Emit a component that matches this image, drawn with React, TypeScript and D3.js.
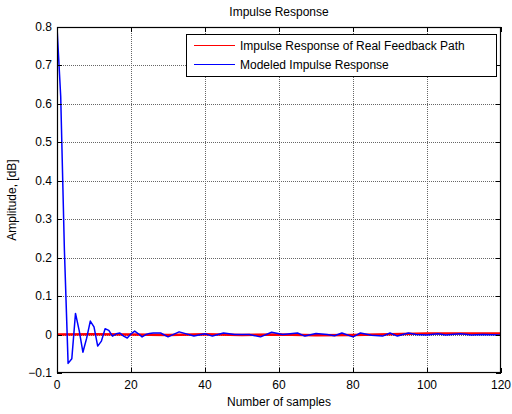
import React from "react";
import * as d3 from "d3";

const xTicks = [0, 20, 40, 60, 80, 100, 120];
const yTicks = [-0.1, 0, 0.1, 0.2, 0.3, 0.4, 0.5, 0.6, 0.7, 0.8];

const realX = [0, 10, 20, 30, 40, 50, 60, 70, 80, 90, 100, 110, 120];
const realY = [0, 0.001, 0, -0.001, 0.001, -0.001, 0, -0.002, -0.001, 0.001, 0.003, 0.003, 0.003];

const modeledX = [0, 1, 2, 3, 4, 5, 6, 7, 8, 9, 10, 11, 12, 13, 14, 15, 16, 17, 18, 19, 20, 21, 22, 23, 24, 25, 26, 27, 28, 30, 33, 37, 40, 42, 45, 48, 52, 55, 58, 61, 65, 67, 70, 73, 75, 77, 80, 82, 85, 88, 90, 92, 95, 97, 100, 103, 105, 109, 112, 115, 120];
const modeledY = [0.8, 0.62, 0.22, -0.075, -0.063, 0.055, 0.01, -0.046, -0.01, 0.035, 0.02, -0.03, -0.017, 0.015, 0.011, -0.004, 0.002, 0.004, -0.004, -0.009, 0.002, 0.009, 0.002, -0.006, 0, 0.003, 0.004, 0.004, 0.004, -0.006, 0.007, -0.004, 0.002, -0.004, 0.004, 0, 0, -0.006, 0.006, 0, 0.004, -0.004, 0.003, 0, -0.003, 0.004, -0.006, 0.004, -0.002, -0.004, 0.004, -0.004, 0.004, 0, -0.001, 0.002, -0.001, 0.002, -0.001, 0, -0.001];

const W = 512, H = 414;
const L = 57, R = 501, T = 27, B = 373;
const FONT = "'Liberation Sans', Arial, sans-serif";

export default function App() {
  const x = d3.scaleLinear().domain([0, 120]).range([L, R]);
  const y = d3.scaleLinear().domain([-0.1, 0.8]).range([B, T]);
  const line = d3.line<[number, number]>().x(d => x(d[0])).y(d => y(d[1]));
  const realPts: [number, number][] = realX.map((v, i) => [v, realY[i]]);
  const modPts: [number, number][] = modeledX.map((v, i) => [v, modeledY[i]]);
  const tl = 5;
  return (
    <svg width={W} height={H} style={{ position: "absolute", left: 0, top: 0, background: "#fff" }} fontFamily={FONT}>
      <rect x={0} y={0} width={W} height={H} fill="#fff" />
      <defs>
        <clipPath id="plotclip">
          <rect x={L} y={T} width={R - L} height={B - T} />
        </clipPath>
      </defs>
      {/* grid */}
      {xTicks.slice(1, -1).map(t => (
        <line key={"gx" + t} x1={Math.round(x(t)) + 0.5} x2={Math.round(x(t)) + 0.5} y1={T} y2={B} stroke="#666" strokeDasharray="1 1" strokeWidth={1} />
      ))}
      {yTicks.slice(1, -1).map(t => (
        <line key={"gy" + t} y1={Math.round(y(t)) + 0.5} y2={Math.round(y(t)) + 0.5} x1={L} x2={R} stroke="#666" strokeDasharray="1 1" strokeWidth={1} />
      ))}
      {/* data */}
      <g clipPath="url(#plotclip)">
        <path d={line(realPts) || ""} fill="none" stroke="#ff0000" strokeWidth={2.5} />
        <path d={line(modPts) || ""} fill="none" stroke="#0000ff" strokeWidth={1.5} strokeLinejoin="round" />
      </g>
      {/* box */}
      <rect x={L + 0.5} y={T + 0.5} width={R - L - 1} height={B - T - 1} fill="none" stroke="#000" strokeWidth={1.2} />
      {/* ticks */}
      {xTicks.map(t => (
        <g key={"tx" + t}>
          <line x1={Math.round(x(t)) + 0.5} x2={Math.round(x(t)) + 0.5} y1={B} y2={B - tl} stroke="#000" />
          <line x1={Math.round(x(t)) + 0.5} x2={Math.round(x(t)) + 0.5} y1={T} y2={T + tl} stroke="#000" />
          <text x={x(t)} y={B + 16} fontSize={12} textAnchor="middle" fill="#000">{t}</text>
        </g>
      ))}
      {yTicks.map(t => (
        <g key={"ty" + t}>
          <line y1={Math.round(y(t)) + 0.5} y2={Math.round(y(t)) + 0.5} x1={L} x2={L + tl} stroke="#000" />
          <line y1={Math.round(y(t)) + 0.5} y2={Math.round(y(t)) + 0.5} x1={R} x2={R - tl} stroke="#000" />
          <text x={L - 5} y={y(t) + 4} fontSize={12} textAnchor="end" fill="#000">{t === 0 ? "0" : d3.format(".1f")(t)}</text>
        </g>
      ))}
      {/* titles */}
      <text x={(L + R) / 2} y={16} fontSize={12} textAnchor="middle" fill="#000">Impulse Response</text>
      <text x={(L + R) / 2} y={406} fontSize={12} textAnchor="middle" fill="#000">Number of samples</text>
      <text transform={`translate(16,${(T + B) / 2}) rotate(-90)`} fontSize={12} textAnchor="middle" fill="#000">Amplitude, [dB]</text>
      {/* legend */}
      <g>
        <rect x={186.5} y={34.5} width={310} height={42} fill="#fff" stroke="#000" strokeWidth={1} />
        <line x1={194} x2={235} y1={45.5} y2={45.5} stroke="#ff0000" strokeWidth={1} />
        <line x1={194} x2={235} y1={64.5} y2={64.5} stroke="#0000ff" strokeWidth={1} />
        <text x={240} y={50} fontSize={12} fill="#000">Impulse Response of Real Feedback Path</text>
        <text x={240} y={69} fontSize={12} fill="#000">Modeled Impulse Response</text>
      </g>
    </svg>
  );
}
